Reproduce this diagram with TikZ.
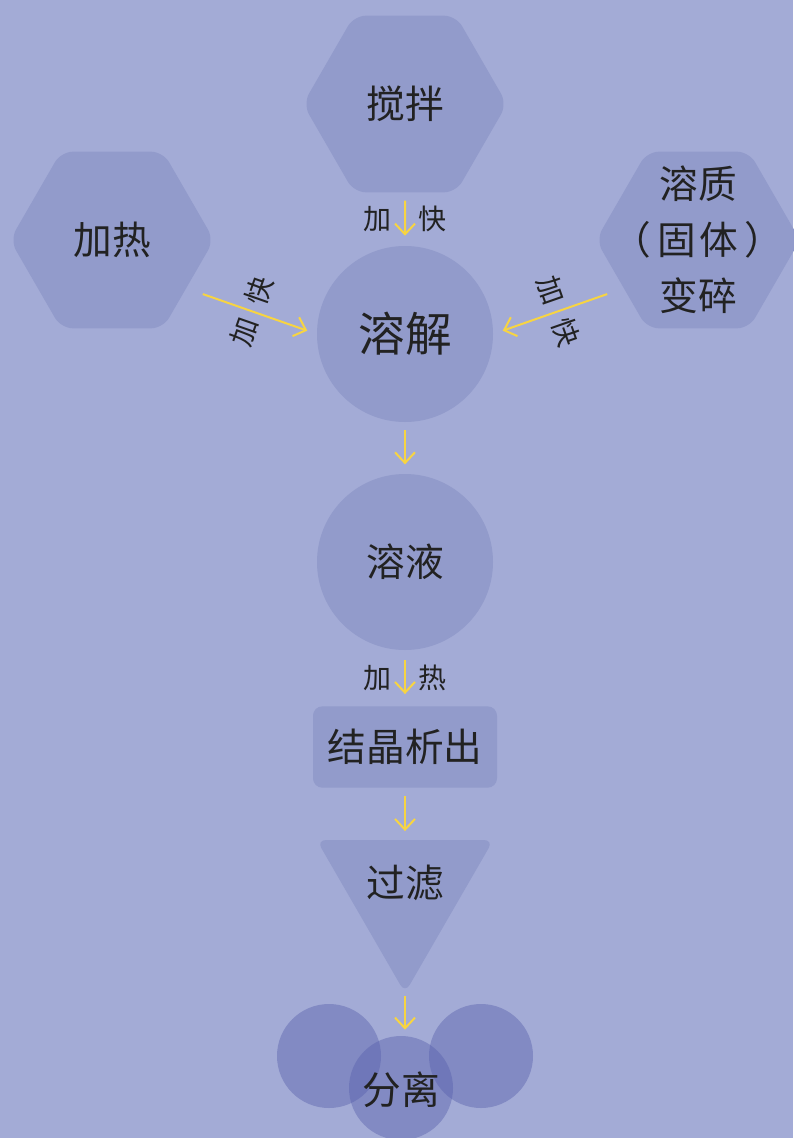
\documentclass[tikz,border=0pt]{standalone}
\usepackage{fontspec}
\newfontfamily\cjk{Noto Sans CJK SC}
\usetikzlibrary{shapes.geometric,arrows.meta}
\definecolor{bgblue}{HTML}{A3ABD6}
\definecolor{shapeblue}{HTML}{929BCB}
\definecolor{darkblue}{HTML}{5A62AD}
\definecolor{arrowyellow}{HTML}{F7D442}
\definecolor{textgray}{HTML}{222222}
\begin{document}
\begin{tikzpicture}[x=0.75pt,y=-0.75pt]
    \tikzstyle{hexa}=[regular polygon, regular polygon sides=6, minimum size=153pt, inner sep=0pt, fill=shapeblue, rounded corners=9pt]
    \tikzstyle{tri}=[regular polygon, regular polygon sides=3, shape border rotate=180, minimum size=153pt, inner sep=0pt, fill=shapeblue, rounded corners=7pt]
    \tikzstyle{disc}=[circle, minimum size=132pt, inner sep=0pt, fill=shapeblue]
    \tikzstyle{panel}=[rectangle, minimum width=138pt, minimum height=61pt, inner sep=0pt, fill=shapeblue, rounded corners=7pt]
    \tikzstyle{blob}=[circle, minimum size=78pt, inner sep=0pt, fill=darkblue, fill opacity=0.45]
    \tikzstyle{word}=[text=textgray, font=\cjk\fontsize{29}{42}\selectfont, align=center, inner sep=0pt]
    \tikzstyle{tag}=[text=textgray, font=\cjk\fontsize{21}{25}\selectfont, inner sep=0pt]
    \tikzstyle{flow}=[draw=arrowyellow, line width=1.5pt, -{Straight Barb[length=8pt, width=15pt]}]

    \useasboundingbox (0,0) rectangle (793,1138);
    \fill[bgblue] (0,0) rectangle (793,1138);

    \node[hexa, word] (stir) at (405,104) {搅拌};
    \node[hexa, word] (heat) at (112,240) {加热};
    \node[hexa] (solute) at (698,240) {};
    \node[word] (soluteText) at (698,240) {溶质\\（\hspace{5pt}固\hspace{2pt}体\hspace{5pt}）\\变碎};
    \node[disc, word, font=\cjk\fontsize{35}{42}\selectfont] (dissolve) at (405,334) {溶解};
    \node[disc, word] (solution) at (405,562) {溶液};
    \node[panel, word] (crystal) at (405,747) {结晶析出};
    \node[tri] (filter) at (405,891) {};
    \node[word] (filterText) at (405,883) {过滤};
    \node[blob] (sepL) at (329,1056) {};
    \node[blob] (sepR) at (481,1056) {};
    \node[blob] (sepM) at (401,1088) {};
    \node[word] (sepText) at (401,1090) {分离};
    \coordinate (sepTop) at (filter.south |- sepM.north);

    \path (stir) edge[flow, shorten <=6pt, shorten >=7.5pt] node[tag]{加\hspace{20pt}快} (dissolve);
    \path (heat.-33) edge[flow, shorten <=13pt, shorten >=7.5pt] node[tag, sloped, rotate=90]{加\hspace{12pt}快} (dissolve.west);
    \path (solute.-147) edge[flow, shorten <=13pt, shorten >=7.5pt] node[tag, sloped, rotate=-90]{加\hspace{12pt}快} (dissolve.east);
    \path (dissolve) edge[flow, shorten <=6pt, shorten >=7pt] (solution);
    \path (solution) edge[flow, shorten <=7.5pt, shorten >=9pt] node[tag]{加\hspace{20pt}热} (crystal);
    \path (crystal) edge[flow, shorten <=6pt, shorten >=6.5pt] (filter);
    \path (filter.south) edge[flow, shorten <=1.5pt, shorten >=4.5pt] (sepTop);
  \end{tikzpicture}
\end{document}
